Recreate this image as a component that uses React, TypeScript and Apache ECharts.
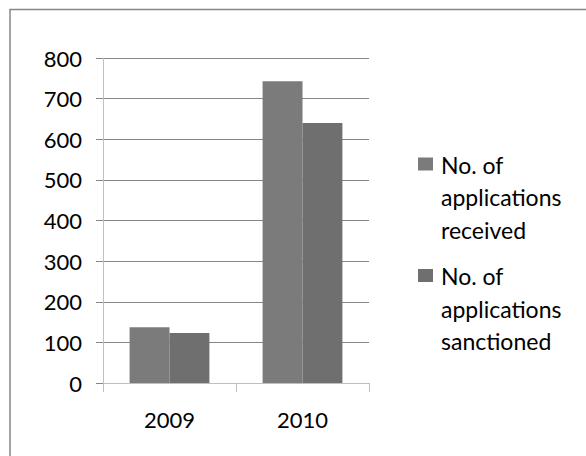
import React, { useEffect, useRef } from "react";
import * as echarts from "echarts";

const categories = ["2009", "2010"];
const seriesNames = ["No. of applications received", "No. of applications sanctioned"];
const legendLabels: Record<string, string> = {
  "No. of applications received": "No. of\napplications\nreceived",
  "No. of applications sanctioned": "No. of\napplications\nsanctioned",
};
const received = [137, 743];
const sanctioned = [123, 640];
const yTicks = { min: 0, max: 800, interval: 100 };

// legend icon: a 15x13 square at the top of a taller, otherwise empty box
const legendIcon = "path://M0,0L0,0M18,0L18,0M0,97.5L0,97.5M0,9h15v13h-15Z";

export default function App() {
  const ref = useRef<HTMLDivElement>(null);
  useEffect(() => {
    if (!ref.current) return;
    const chart = echarts.init(ref.current, null, { renderer: "svg" });
    chart.setOption({
      animation: false,
      backgroundColor: "#fff",
      graphic: [
        {
          type: "rect",
          shape: { x: 10, y: 9.5, width: 640, height: 520 },
          style: { fill: "none", stroke: "#868686", lineWidth: 1.5 },
          silent: true,
        },
      ],
      legend: {
        show: true,
        orient: "vertical",
        left: 418,
        top: 148.5,
        padding: 0,
        itemGap: 14,
        itemWidth: 18,
        itemHeight: 97.5,
        icon: legendIcon,
        selectedMode: false,
        data: seriesNames,
        formatter: (name: string) => legendLabels[name],
        textStyle: {
          fontFamily: "Lato",
          fontSize: 23,
          color: "#000",
          lineHeight: 32.5,
        },
      },
      grid: { left: 103, right: 217, top: 58, bottom: 73, containLabel: false },
      xAxis: {
        type: "category",
        data: categories,
        axisLine: { show: true, lineStyle: { color: "#bfbfbf", width: 1 } },
        axisTick: { show: true, length: 9, lineStyle: { color: "#bfbfbf" } },
        axisLabel: { fontFamily: "Lato", fontSize: 22, color: "#000", margin: 25 },
      },
      yAxis: {
        type: "value",
        min: yTicks.min,
        max: yTicks.max,
        interval: yTicks.interval,
        axisLine: { show: true, lineStyle: { color: "#bfbfbf", width: 1 } },
        axisTick: { show: true, length: 7, lineStyle: { color: "#868686" } },
        splitLine: { show: true, lineStyle: { color: "#868686", width: 1 } },
        axisLabel: { fontFamily: "Lato", fontSize: 22, color: "#000", margin: 21 },
      },
      series: [
        {
          name: seriesNames[0],
          type: "bar",
          data: received,
          barWidth: "30%",
          barGap: "0%",
          itemStyle: { color: "#7b7b7b" },
        },
        {
          name: seriesNames[1],
          type: "bar",
          data: sanctioned,
          barWidth: "30%",
          barGap: "0%",
          itemStyle: { color: "#6f6f6f" },
        },
      ],
    });
    return () => chart.dispose();
  }, []);
  return (
    <div
      ref={ref}
      style={{ position: "absolute", left: 0, top: 0, width: 586, height: 456 }}
    />
  );
}
